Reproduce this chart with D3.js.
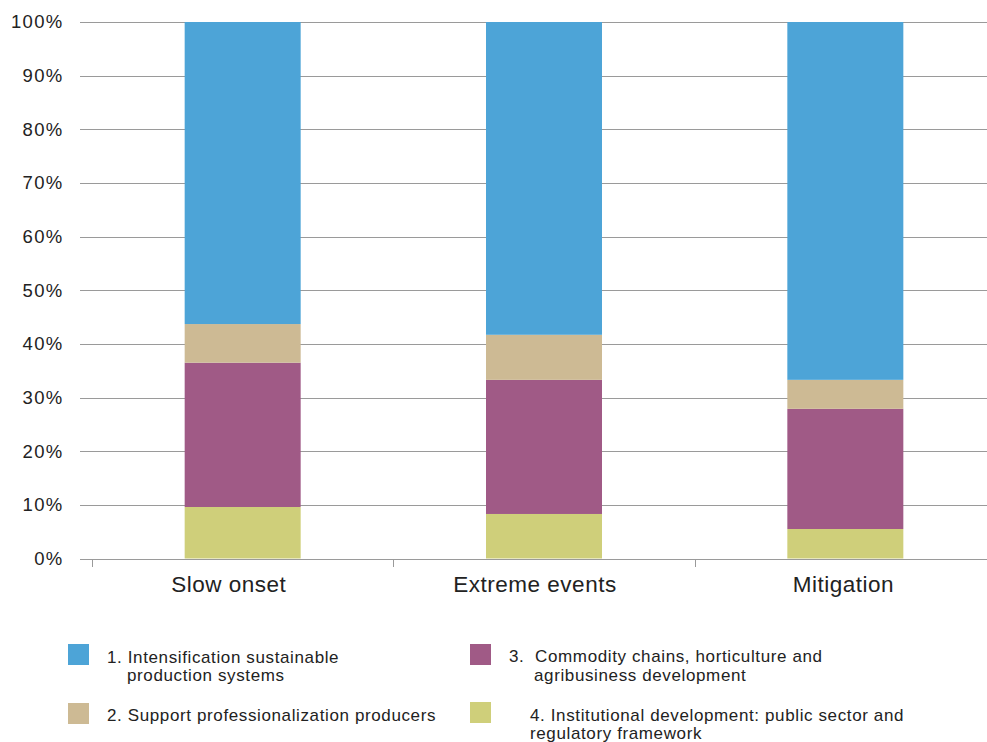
<!DOCTYPE html>
<html><head><meta charset="utf-8">
<script src="https://cdn.jsdelivr.net/npm/d3@7"></script>
<style>body{margin:0;background:#fff;}svg{display:block;font-family:"Liberation Sans",Arial,Helvetica,sans-serif;}</style>
</head><body>
<svg id="chart" width="987" height="742"></svg>
<script>
const categories = ["Slow onset", "Extreme events", "Mitigation"];
const seriesNames = [
  "4. Institutional development: public sector and regulatory framework",
  "3. Commodity chains, horticulture and agribusiness development",
  "2. Support professionalization producers",
  "1. Intensification sustainable production systems"
];
const institutional = [9.6, 8.3, 5.5];
const commodity = [26.9, 25.0, 22.4];
const professionalization = [7.2, 8.4, 5.4];
const intensification = [56.3, 58.3, 66.7];
const yTicks = [0, 10, 20, 30, 40, 50, 60, 70, 80, 90, 100];
const colors = ["#cfcf7a", "#a05a86", "#cdba94", "#4da4d7"];

// layout: horizontal nudge of each category label relative to the band centre
const labelNudge = [-14, -9, -2];

const svg = d3.select("#chart");
const x = d3.scaleBand().domain(categories).range([92, 996]).padding(0);
const y = d3.scaleLinear().domain([0, 100]).range([558.5, 22]);
const barW = 116;

// gridlines
svg.append("g").selectAll("line").data(yTicks).join("line")
  .attr("x1", 80).attr("x2", 987)
  .attr("y1", d => Math.round(y(d)) + 0.5).attr("y2", d => Math.round(y(d)) + 0.5)
  .attr("stroke", "#9a9a9a").attr("stroke-width", 1);

// y labels
svg.append("g").selectAll("text").data(yTicks).join("text")
  .attr("x", 63.5).attr("y", d => y(d)).attr("dy", "0.35em")
  .attr("text-anchor", "end").attr("font-size", 18.5).attr("letter-spacing", 1.3).attr("fill", "#222")
  .text(d => d + "%");

// x tick marks
const tickXs = categories.map(c => x(c)).concat([x.range()[1]]);
svg.append("g").selectAll("line").data(tickXs).join("line")
  .attr("x1", d => Math.round(d) + 0.5).attr("x2", d => Math.round(d) + 0.5)
  .attr("y1", 559).attr("y2", 567).attr("stroke", "#9a9a9a");

// stacked data
const rows = categories.map((c, i) => ({
  cat: c,
  s0: institutional[i], s1: commodity[i], s2: professionalization[i], s3: intensification[i]
}));
const stack = d3.stack().keys(["s0", "s1", "s2", "s3"]);
const stacked = stack(rows);

svg.append("g").selectAll("g").data(stacked).join("g")
  .attr("fill", (d, i) => colors[i])
  .selectAll("rect").data(d => d).join("rect")
  .attr("x", d => x(d.data.cat) + x.bandwidth() / 2 - barW / 2)
  .attr("width", barW)
  .attr("y", d => y(d[1]))
  .attr("height", d => y(d[0]) - y(d[1]));

// category labels
svg.append("g").selectAll("text").data(categories).join("text")
  .attr("x", (d, i) => x(d) + x.bandwidth() / 2 + labelNudge[i]).attr("y", 592)
  .attr("text-anchor", "middle").attr("font-size", 22.5).attr("letter-spacing", 0.5).attr("fill", "#222")
  .text(d => d);

// legend
const legend = [
  {ci: 3, sx: 68, sy: 644, lines: [["1. Intensification sustainable", 107, 663], ["production systems", 127, 681]]},
  {ci: 2, sx: 68, sy: 703, lines: [["2. Support professionalization producers", 107, 721]]},
  {ci: 1, sx: 470, sy: 644, lines: [["3.  Commodity chains, horticulture and", 509, 662], ["agribusiness development", 534, 680.5]]},
  {ci: 0, sx: 470, sy: 702, lines: [["4. Institutional development: public sector and", 530, 720.5], ["regulatory framework", 530, 739]]}
];
const lg = svg.append("g");
legend.forEach(l => {
  lg.append("rect").attr("x", l.sx).attr("y", l.sy).attr("width", 21).attr("height", 21).attr("fill", colors[l.ci]);
  l.lines.forEach(ln => {
    lg.append("text").attr("x", ln[1]).attr("y", ln[2])
      .attr("font-size", 17).attr("letter-spacing", 0.62).attr("fill", "#222")
      .style("white-space", "pre").text(ln[0]);
  });
});
</script>
</body></html>
